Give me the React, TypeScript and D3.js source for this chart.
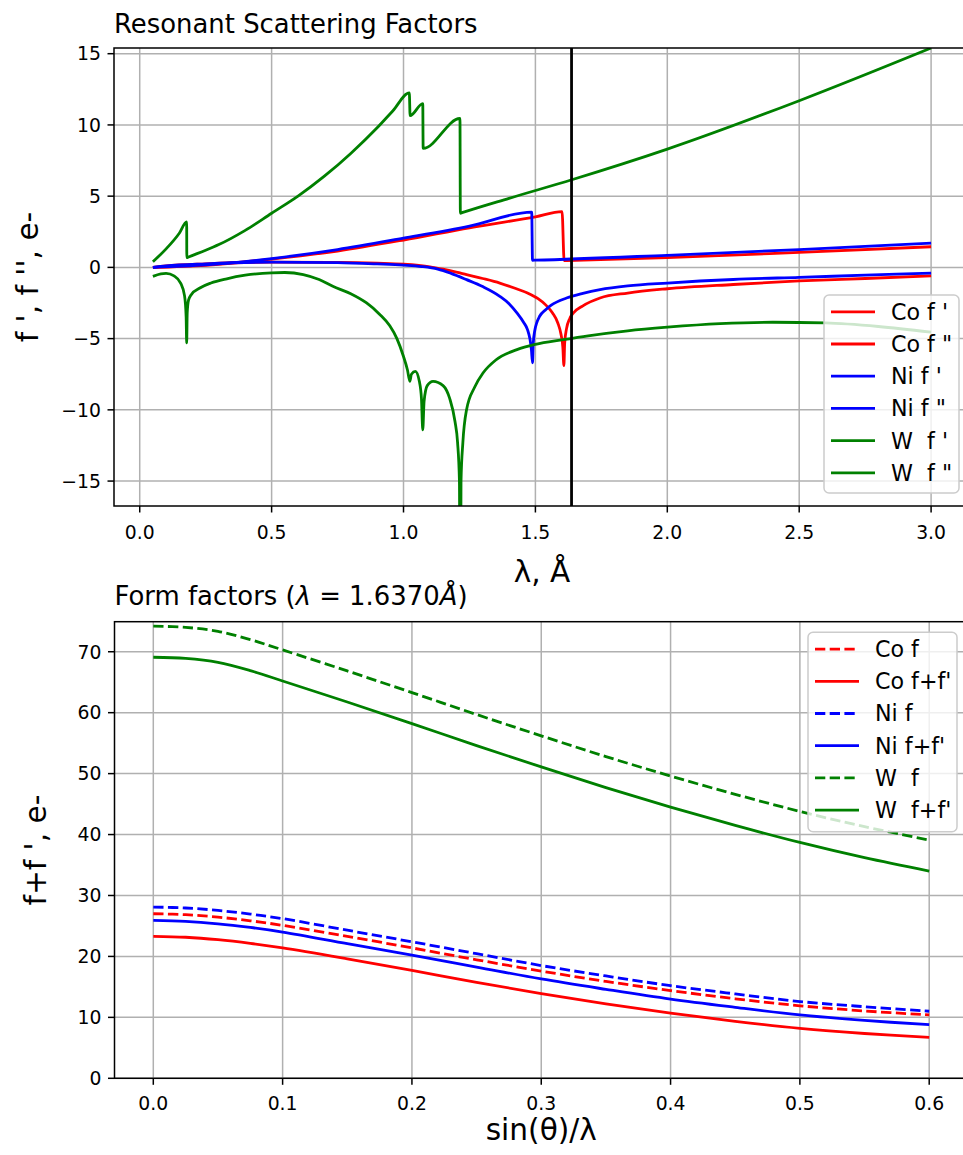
import React from "react";
import * as d3 from "d3";

// ---------- data: top panel (resonant scattering factors vs wavelength) ----------
const coFpL = [0.05, 0.1, 0.25, 0.5, 0.75, 0.9, 1.0, 1.1, 1.15, 1.2, 1.239, 1.3, 1.365, 1.42, 1.47, 1.51, 1.54, 1.565, 1.585, 1.597, 1.604, 1.608, 1.611, 1.618, 1.63, 1.644, 1.68, 1.745, 1.85, 2.0, 2.25, 2.5, 2.75, 3.0];
const coFpV = [0.0, 0.1, 0.25, 0.37, 0.35, 0.29, 0.22, 0.04, -0.13, -0.33, -0.51, -0.78, -1.1, -1.45, -1.8, -2.2, -2.65, -3.2, -3.9, -4.7, -5.6, -6.9, -5.3, -4.3, -3.6, -3.2, -2.7, -2.15, -1.8, -1.5, -1.2, -0.95, -0.78, -0.6];

const coFppL = [0.05, 0.25, 0.5, 0.75, 1.0, 1.25, 1.5, 1.601, 1.609, 1.62, 2.0, 2.5, 3.0];
const coFppV = [0.0, 0.15, 0.58, 1.15, 1.92, 2.78, 3.55, 3.92, 0.47, 0.475, 0.68, 1.05, 1.45];

const niFpL = [0.05, 0.1, 0.25, 0.5, 0.75, 0.9, 1.0, 1.07, 1.13, 1.18, 1.239, 1.3, 1.365, 1.4, 1.43, 1.455, 1.47, 1.479, 1.485, 1.489, 1.492, 1.498, 1.505, 1.516, 1.54, 1.56, 1.618, 1.68, 1.745, 1.85, 2.0, 2.25, 2.5, 2.75, 3.0];
const niFpV = [0.0, 0.1, 0.25, 0.37, 0.33, 0.24, 0.16, 0.06, -0.12, -0.42, -0.86, -1.35, -2.03, -2.55, -3.2, -3.85, -4.37, -5.0, -5.8, -6.7, -5.3, -4.4, -3.9, -3.43, -2.95, -2.65, -2.15, -1.82, -1.56, -1.3, -1.1, -0.85, -0.7, -0.55, -0.4];

const niFppL = [0.05, 0.25, 0.5, 0.75, 1.0, 1.25, 1.486, 1.489, 1.5, 2.0, 2.5, 3.0];
const niFppV = [0.0, 0.17, 0.62, 1.25, 2.05, 2.9, 3.88, 0.5, 0.505, 0.85, 1.25, 1.7];

const wFpL = [0.05, 0.08, 0.1, 0.13, 0.155, 0.17, 0.176, 0.178, 0.18, 0.185, 0.196, 0.228, 0.27, 0.33, 0.4, 0.5, 0.55, 0.62, 0.68, 0.732, 0.8, 0.86, 0.91, 0.948, 0.975, 0.999, 1.015, 1.024, 1.03, 1.045, 1.06, 1.068, 1.073, 1.078, 1.09, 1.112, 1.15, 1.175, 1.195, 1.205, 1.212, 1.215, 1.218, 1.225, 1.239, 1.27, 1.302, 1.35, 1.43, 1.5, 1.606, 1.7, 1.85, 2.0, 2.2, 2.4, 2.6, 2.8, 3.0];
const wFpV = [-0.63, -0.45, -0.42, -0.6, -1.1, -2.0, -3.5, -5.3, -3.2, -2.3, -1.9, -1.45, -1.1, -0.8, -0.55, -0.38, -0.36, -0.5, -0.85, -1.33, -1.85, -2.5, -3.3, -4.1, -5.0, -6.2, -7.2, -8.0, -7.5, -7.3, -8.0, -9.2, -11.4, -9.4, -8.3, -8.0, -8.3, -9.2, -10.8, -12.3, -15.0, -30.0, -15.0, -12.3, -10.0, -8.4, -7.4, -6.5, -5.77, -5.4, -5.07, -4.8, -4.45, -4.2, -3.95, -3.85, -3.9, -4.15, -4.55];

const wFppL = [0.05, 0.1, 0.15, 0.178, 0.1785, 0.185, 0.25, 0.3, 0.4, 0.5, 0.6, 0.7, 0.8, 0.9, 0.96, 1.022, 1.025, 1.073, 1.0745, 1.214, 1.2155, 1.222, 1.4, 1.638, 2.0, 2.5, 3.0];
const wFppV = [0.4, 1.3, 2.4, 3.2, 0.68, 0.73, 1.2, 1.6, 2.6, 3.8, 5.0, 6.4, 8.0, 9.8, 11.0, 12.25, 10.65, 11.5, 8.35, 10.45, 3.8, 3.84, 4.85, 6.15, 8.3, 11.7, 15.4];

const edgeLambda = 1.637;

const topXTicks = [0.0, 0.5, 1.0, 1.5, 2.0, 2.5, 3.0];
const topYTicks = [-15, -10, -5, 0, 5, 10, 15];

const topSeries = [
  { label: "Co f '", color: "#ff0000", xs: coFpL, ys: coFpV },
  { label: 'Co f "', color: "#ff0000", xs: coFppL, ys: coFppV },
  { label: "Ni f '", color: "#0000ff", xs: niFpL, ys: niFpV },
  { label: 'Ni f "', color: "#0000ff", xs: niFppL, ys: niFppV },
  { label: "W  f '", color: "#008000", xs: wFpL, ys: wFpV },
  { label: 'W  f "', color: "#008000", xs: wFppL, ys: wFppV },
];

// ---------- data: bottom panel (form factors vs sin(theta)/lambda) ----------
const sVals = [0, 0.025, 0.05, 0.075, 0.1, 0.15, 0.2, 0.25, 0.3, 0.35, 0.4, 0.45, 0.5, 0.55, 0.6];
const coF = [27.0, 26.85, 26.45, 25.85, 25.1, 23.3, 21.4, 19.45, 17.6, 15.9, 14.4, 13.05, 11.9, 11.05, 10.4];
const coFF = [23.3, 23.15, 22.75, 22.15, 21.4, 19.6, 17.7, 15.75, 13.9, 12.2, 10.7, 9.35, 8.2, 7.35, 6.7];
const niF = [28.1, 27.95, 27.55, 26.95, 26.2, 24.3, 22.4, 20.45, 18.5, 16.8, 15.2, 13.85, 12.6, 11.75, 11.0];
const niFF = [25.9, 25.75, 25.35, 24.75, 24.0, 22.1, 20.2, 18.25, 16.3, 14.6, 13.0, 11.65, 10.4, 9.5, 8.8];
const wF = [74.2, 74.0, 73.35, 72.0, 70.3, 66.85, 63.3, 59.7, 56.2, 52.8, 49.6, 46.6, 43.8, 41.3, 39.1];
const wFF = [69.1, 68.9, 68.25, 66.9, 65.2, 61.75, 58.2, 54.6, 51.1, 47.7, 44.5, 41.5, 38.7, 36.2, 34.0];

const botXTicks = [0.0, 0.1, 0.2, 0.3, 0.4, 0.5, 0.6];
const botYTicks = [0, 10, 20, 30, 40, 50, 60, 70];

const botSeries = [
  { label: "Co f", color: "#ff0000", dashed: true, xs: sVals, ys: coF },
  { label: "Co f+f'", color: "#ff0000", dashed: false, xs: sVals, ys: coFF },
  { label: "Ni f", color: "#0000ff", dashed: true, xs: sVals, ys: niF },
  { label: "Ni f+f'", color: "#0000ff", dashed: false, xs: sVals, ys: niFF },
  { label: "W  f", color: "#008000", dashed: true, xs: sVals, ys: wF },
  { label: "W  f+f'", color: "#008000", dashed: false, xs: sVals, ys: wFF },
];

// ---------- styling ----------
const FONT = "'DejaVu Sans', sans-serif";
const TICK_FS = 18.8;
const LABEL_FS = 29.6;
const TITLE_FS = 25.9;
const LEGEND_FS = 22.2;
const LW = 2.8;
const DASH = "10.3,4.4";
const GRID = "#b0b0b0";

type Series = { label: string; color: string; dashed?: boolean; xs: number[]; ys: number[] };

function Legend({ right, top, width, height, items }: { right: number; top: number; width: number; height: number; items: Series[] }) {
  const left = right - width;
  return (
    <g>
      <rect x={left} y={top} width={width} height={height} rx={5} ry={5} fill="white" fillOpacity={0.8} stroke="#cccccc" strokeWidth={1.5} />
      {items.map((s, i) => {
        const cy = top + 16.8 + i * 32.2;
        return (
          <g key={i}>
            <line x1={left + 7} x2={left + 51} y1={cy} y2={cy} stroke={s.color} strokeWidth={LW} strokeDasharray={s.dashed ? DASH : undefined} />
            <text x={left + 67} y={cy} dy="0.36em" fontSize={LEGEND_FS} fontFamily={FONT} fill="#000" style={{ whiteSpace: "pre" }}>
              {s.label}
            </text>
          </g>
        );
      })}
    </g>
  );
}

function Panel(props: {
  id: string;
  left: number; right: number; top: number; bottom: number;
  xDomain: [number, number]; yDomain: [number, number];
  xTicks: number[]; yTicks: number[];
  xFmt: (n: number) => string; yFmt: (n: number) => string;
  series: Series[];
  curve: d3.CurveFactory;
  vline?: number;
  xlabel: string; ylabel: string; ylabelX: number;
  title: React.ReactNode;
  legend: { right: number; top: number; width: number; height: number };
  xlabelY: number; tickLabelDy: number; titleY: number;
}) {
  const { left, right, top, bottom } = props;
  const x = d3.scaleLinear().domain(props.xDomain).range([left, right]);
  const y = d3.scaleLinear().domain(props.yDomain).range([bottom, top]);
  const gen = d3.line<[number, number]>().x((d) => x(d[0])).y((d) => y(d[1])).curve(props.curve);
  const mk = (s: Series) => gen(s.xs.map((v, i) => [v, s.ys[i]] as [number, number])) || "";
  const cx = (left + right) / 2;
  const cy = (top + bottom) / 2;
  return (
    <g>
      <defs>
        <clipPath id={props.id}>
          <rect x={left} y={top} width={right - left} height={bottom - top} />
        </clipPath>
      </defs>
      <g>
        {props.xTicks.map((t) => (
          <line key={"gx" + t} x1={x(t)} x2={x(t)} y1={top} y2={bottom} stroke={GRID} strokeWidth={1.5} />
        ))}
        {props.yTicks.map((t) => (
          <line key={"gy" + t} x1={left} x2={right} y1={y(t)} y2={y(t)} stroke={GRID} strokeWidth={1.5} />
        ))}
      </g>
      <g clipPath={`url(#${props.id})`}>
        {props.series.map((s, i) => (
          <path key={i} d={mk(s)} fill="none" stroke={s.color} strokeWidth={LW} strokeDasharray={s.dashed ? DASH : undefined} strokeLinejoin="round" />
        ))}
        {props.vline !== undefined && (
          <line x1={x(props.vline)} x2={x(props.vline)} y1={top} y2={bottom} stroke="#000" strokeWidth={LW} />
        )}
      </g>
      <rect x={left} y={top} width={right - left} height={bottom - top} fill="none" stroke="#000" strokeWidth={1.5} />
      {props.xTicks.map((t) => (
        <g key={"tx" + t}>
          <line x1={x(t)} x2={x(t)} y1={bottom} y2={bottom + 6.5} stroke="#000" strokeWidth={1.5} />
          <text x={x(t)} y={bottom + props.tickLabelDy} textAnchor="middle" fontSize={TICK_FS} fontFamily={FONT} fill="#000">
            {props.xFmt(t)}
          </text>
        </g>
      ))}
      {props.yTicks.map((t) => (
        <g key={"ty" + t}>
          <line x1={left - 6.5} x2={left} y1={y(t)} y2={y(t)} stroke="#000" strokeWidth={1.5} />
          <text x={left - 13} y={y(t)} dy="0.36em" textAnchor="end" fontSize={TICK_FS} fontFamily={FONT} fill="#000">
            {props.yFmt(t)}
          </text>
        </g>
      ))}
      <text x={cx} y={props.xlabelY} textAnchor="middle" fontSize={LABEL_FS} fontFamily={FONT} fill="#000">
        {props.xlabel}
      </text>
      <text transform={`translate(${props.ylabelX},${cy}) rotate(-90)`} textAnchor="middle" fontSize={LABEL_FS} fontFamily={FONT} fill="#000" style={{ whiteSpace: "pre" }}>
        {props.ylabel}
      </text>
      <text x={left} y={props.titleY} fontSize={TITLE_FS} fontFamily={FONT} fill="#000">
        {props.title}
      </text>
      <Legend {...props.legend} items={props.series} />
    </g>
  );
}

export default function App() {
  const f1 = d3.format(".1f");
  const fd = d3.format("d");
  return (
    <svg width={963} height={1155} style={{ position: "absolute", left: 0, top: 0, background: "#fff" }} xmlns="http://www.w3.org/2000/svg">
      <rect x={0} y={0} width={963} height={1155} fill="#fff" />
      <Panel
        id="clipTop"
        left={114} right={970} top={48} bottom={506}
        xDomain={[-0.0975, 3.1475]} yDomain={[-16.75, 15.4]}
        xTicks={topXTicks} yTicks={topYTicks}
        xFmt={f1} yFmt={fd}
        series={topSeries}
        curve={d3.curveMonotoneX}
        vline={edgeLambda}
        xlabel="λ, Å" ylabel="f ', f '', e-" ylabelX={38}
        title="Resonant Scattering Factors"
        legend={{ right: 959, top: 295, width: 135, height: 198 }}
        xlabelY={582} tickLabelDy={33.3} titleY={33.3}
      />
      <Panel
        id="clipBot"
        left={114.5} right={968} top={621.7} bottom={1078.3}
        xDomain={[-0.03, 0.63]} yDomain={[0, 74.93]}
        xTicks={botXTicks} yTicks={botYTicks}
        xFmt={f1} yFmt={fd}
        series={botSeries}
        curve={d3.curveCatmullRom}
        xlabel="sin(θ)/λ" ylabel="f+f ', e-" ylabelX={46}
        title={
          <>
            {"Form factors ("}
            <tspan fontStyle="italic">λ</tspan>
            {" = 1.6370"}
            <tspan fontStyle="italic">Å</tspan>
            {")"}
          </>
        }
        legend={{ right: 957, top: 632.3, width: 149, height: 199.4 }}
        xlabelY={1140} tickLabelDy={31.8} titleY={605}
      />
    </svg>
  );
}
